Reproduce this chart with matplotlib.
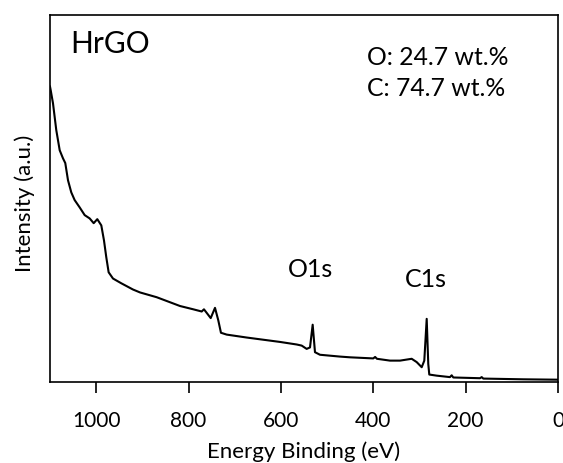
import numpy as np
import matplotlib
matplotlib.use("Agg")
import matplotlib.pyplot as plt

# ---------------- DATA ----------------
binding_energy = [
    1100, 1098.5, 1093.5, 1086.4, 1079, 1071.9, 1066.9, 1061, 1053.9, 1046.6,
    1035.7, 1024.9, 1014.1, 1005.4, 997.6, 988.9, 983.1, 978.1, 973, 963.6,
    945.6, 920.3, 905, 869, 818.5, 789.7, 771.5, 766.6, 752, 742.7,
    735.6, 729.8, 717.4, 674.1, 638.1, 602, 565.8, 555, 544.2, 537,
    531.2, 526.2, 515.4, 472, 450, 400, 396, 392, 363.8, 342,
    316.8, 306, 295.1, 289.5, 284.3, 280.9, 278.7, 262.7, 233.9, 230.2,
    226.7, 168.9, 165.2, 161.7, 75.1, 2.8, 0,
]
intensity = [
    80.5, 79.5, 75.9, 68.6, 63.1, 60.9, 59.6, 54.9, 51.6, 49.5,
    47.5, 45.4, 44.5, 43.2, 44.3, 42.6, 38.5, 33.9, 29.8, 28.1,
    26.8, 25.1, 24.3, 23.0, 20.6, 19.7, 19.1, 19.7, 17.3, 20.1,
    16.7, 13.3, 12.8, 12.0, 11.4, 10.8, 10.1, 9.8, 8.9, 9.3,
    15.5, 8.0, 7.3, 6.8, 6.6, 6.3, 6.7, 6.2, 5.7, 5.7,
    6.2, 5.3, 3.9, 5.7, 17.1, 4.8, 1.9, 1.6, 1.2, 1.7,
    1.1, 0.9, 1.2, 0.8, 0.6, 0.5, 0.5,
]

sample_name = "HrGO"
composition = ["O: 24.7 wt.%", "C: 74.7 wt.%"]
peak_labels = ["O1s", "C1s"]
peak_positions = [531.2, 284.3]
x_ticks = [1000, 800, 600, 400, 200, 0]

# ---------------- PLOT ----------------
plt.rcParams["font.family"] = ["Lato", "DejaVu Sans"]

fig = plt.figure(figsize=(5.63, 4.63), dpi=100)
ax = fig.add_axes([0.0888, 0.176, 0.9023, 0.7916])

ax.plot(binding_energy, intensity, color="black", lw=1.5)

ax.set_xlim(1100, 0)
ax.set_ylim(0, 100)
ax.set_xticks(x_ticks)
ax.set_yticks([])
ax.tick_params(axis="x", direction="out", length=8, width=1.2,
               labelsize=15, pad=13)
for s in ax.spines.values():
    s.set_linewidth(1.2)

ax.set_xlabel("Energy Binding (eV)", fontsize=16, labelpad=8)
ax.set_ylabel("Intensity (a.u.)", fontsize=16)
ax.yaxis.set_label_coords(-0.03, 0.485)

ax.text(0.04, 89.6, sample_name, transform=ax.get_yaxis_transform(),
        fontsize=21.5, va="baseline", ha="left")
for i, line in enumerate(composition):
    ax.text(0.624, 86.3 - 8.4 * i, line, transform=ax.get_yaxis_transform(),
            fontsize=17.8, va="baseline", ha="left")

# label offsets from the peak top (eV, intensity)
label_offsets = [(5, 12.9), (2, 8.6)]
for lab, pos, (dx, dy) in zip(peak_labels, peak_positions, label_offsets):
    idx = binding_energy.index(pos)
    ax.text(pos + dx, intensity[idx] + dy, lab, fontsize=18,
            ha="center", va="baseline")

fig.savefig("out.png", dpi=100)
